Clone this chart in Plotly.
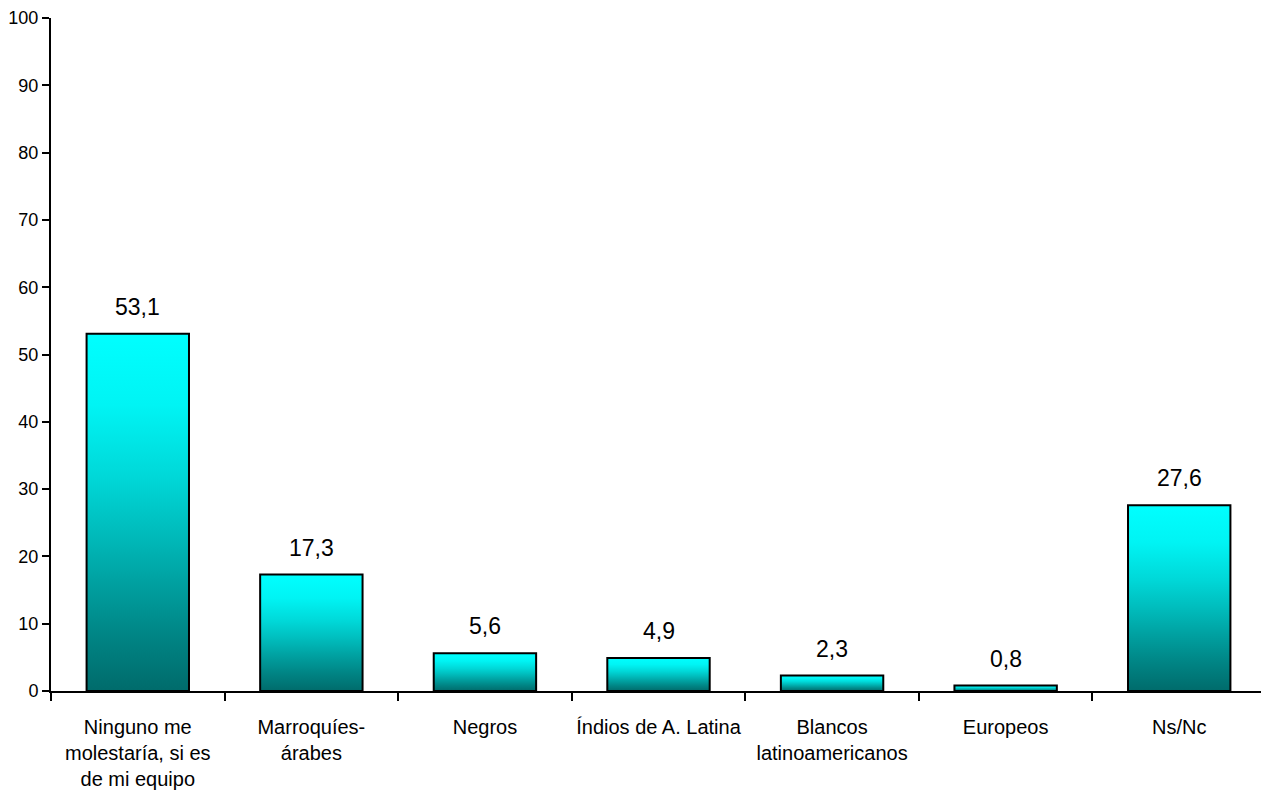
import plotly.graph_objects as go

categories = ["Ninguno me<br>molestaría, si es<br>de mi equipo", "Marroquíes-<br>árabes", "Negros",
              "Índios de A. Latina", "Blancos<br>latinoamericanos", "Europeos", "Ns/Nc"]
values = [53.1, 17.3, 5.6, 4.9, 2.3, 0.8, 27.6]
value_labels = ["53,1", "17,3", "5,6", "4,9", "2,3", "0,8", "27,6"]
y_ticks = list(range(0, 101, 10))

FONT = "Liberation Sans Narrow, Arial Narrow, Liberation Sans, Arial, sans-serif"
HALF = 0.295
gradient_scale = [[0.0, "#006b6b"], [0.15, "#008484"], [0.3, "#00a0a0"], [0.45, "#00bdbd"],
                  [0.6, "#00d8d8"], [0.8, "#00f4f4"], [1.0, "#00ffff"]]

fig = go.Figure()
for i, v in enumerate(values):
    fig.add_trace(go.Scatter(
        x=[i - HALF, i + HALF, i + HALF, i - HALF, i - HALF],
        y=[0, 0, v, v, 0],
        mode="lines", fill="toself",
        line=dict(color="black", width=2),
        fillgradient=dict(type="vertical", colorscale=gradient_scale),
        hoverinfo="skip", showlegend=False,
    ))

# invisible trace carrying category axis
fig.add_trace(go.Scatter(x=list(range(len(categories))), y=[0] * len(categories),
                         xaxis="x2", mode="markers", marker=dict(opacity=0),
                         hoverinfo="skip", showlegend=False))

for i, (v, t) in enumerate(zip(values, value_labels)):
    fig.add_annotation(x=i, y=v, text=t, showarrow=False, yanchor="bottom", yshift=12,
                       font=dict(family=FONT, size=23, color="black"))

fig.update_layout(
    width=1261, height=796,
    margin=dict(l=43, r=3, t=10, b=113),
    paper_bgcolor="white", plot_bgcolor="white",
    font=dict(family=FONT, size=19, color="black"),
    xaxis=dict(range=[-0.5, len(categories) - 0.5],
               tickvals=[k - 0.5 for k in range(len(categories) + 1)],
               ticktext=[""] * (len(categories) + 1),
               ticks="outside", ticklen=8, tickwidth=2, tickcolor="black",
               showline=True, linecolor="black", linewidth=2, showgrid=False, zeroline=False,
               automargin=False, fixedrange=True),
    xaxis2=dict(overlaying="x", matches="x", anchor="y", side="bottom",
                tickvals=list(range(len(categories))), ticktext=categories,
                ticks="", showline=False, showgrid=False, zeroline=False, tickangle=0,
                automargin=False, ticklabelstandoff=22, ticklabeloverflow="allow",
                tickfont=dict(family=FONT, size=20, color="black")),
    yaxis=dict(range=[0, 100], tickvals=y_ticks, ticks="outside", ticklen=7, tickwidth=2,
               tickcolor="black", showline=True, linecolor="black", linewidth=2,
               automargin=False, showgrid=False, zeroline=False, ticklabeloverflow="allow",
               tickfont=dict(family=FONT, size=18, color="black")),
)

fig.write_html("out.html")
